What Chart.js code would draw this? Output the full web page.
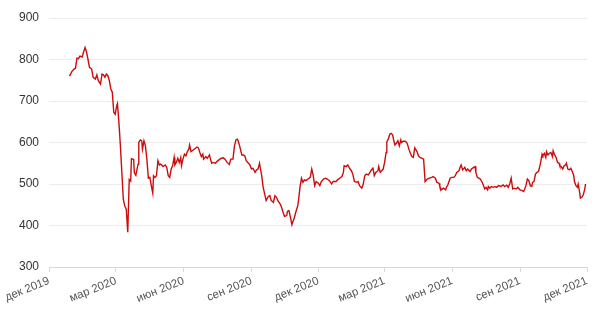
<!DOCTYPE html>
<html>
<head>
<meta charset="utf-8">
<script src="https://cdn.jsdelivr.net/npm/chart.js@4"></script>
<style>
  html, body { margin: 0; padding: 0; background: #fff; }
  #wrap { width: 600px; height: 314px; }
</style>
</head>
<body>
<div id="wrap"><canvas id="priceChart" width="600" height="314"></canvas></div>
<script>
// даты и цены
var dates = [
  '2019-12-29','2020-01-01','2020-01-04','2020-01-06','2020-01-08','2020-01-10','2020-01-12','2020-01-15','2020-01-17','2020-01-19',
  '2020-01-21','2020-01-23','2020-01-25','2020-01-28','2020-01-30','2020-02-02','2020-02-04','2020-02-06','2020-02-09','2020-02-11',
  '2020-02-13','2020-02-15','2020-02-17','2020-02-19','2020-02-21','2020-02-23','2020-02-25','2020-02-27','2020-02-29','2020-03-02',
  '2020-03-03','2020-03-05','2020-03-07','2020-03-09','2020-03-11','2020-03-13','2020-03-15','2020-03-17','2020-03-19','2020-03-21',
  '2020-03-22','2020-03-25','2020-03-26','2020-03-28','2020-03-31','2020-04-01','2020-04-03','2020-04-05','2020-04-06','2020-04-08',
  '2020-04-10','2020-04-12','2020-04-14','2020-04-16','2020-04-18','2020-04-20','2020-04-21','2020-04-23','2020-04-25','2020-04-27',
  '2020-04-29','2020-05-01','2020-05-04','2020-05-07','2020-05-09','2020-05-11','2020-05-13','2020-05-15','2020-05-17','2020-05-19',
  '2020-05-20','2020-05-22','2020-05-24','2020-05-26','2020-05-28','2020-05-29','2020-05-31','2020-06-02','2020-06-04','2020-06-06',
  '2020-06-08','2020-06-09','2020-06-11','2020-06-14','2020-06-17','2020-06-19','2020-06-21','2020-06-23','2020-06-25','2020-06-27',
  '2020-06-28','2020-07-01','2020-07-03','2020-07-06','2020-07-07','2020-07-09','2020-07-11','2020-07-14','2020-07-16','2020-07-19',
  '2020-07-22','2020-07-25','2020-07-27','2020-07-30','2020-08-02','2020-08-04','2020-08-07','2020-08-09','2020-08-11','2020-08-13',
  '2020-08-14','2020-08-16','2020-08-19','2020-08-21','2020-08-23','2020-08-25','2020-08-28','2020-08-30','2020-09-01','2020-09-03',
  '2020-09-06','2020-09-08','2020-09-10','2020-09-12','2020-09-15','2020-09-17','2020-09-19','2020-09-21','2020-09-24','2020-09-26',
  '2020-09-28','2020-10-01','2020-10-03','2020-10-05','2020-10-07','2020-10-10','2020-10-12','2020-10-14','2020-10-16','2020-10-19',
  '2020-10-20','2020-10-22','2020-10-24','2020-10-26','2020-10-27','2020-10-29','2020-10-31','2020-11-03','2020-11-04','2020-11-06',
  '2020-11-08','2020-11-10','2020-11-12','2020-11-14','2020-11-17','2020-11-20','2020-11-22','2020-11-24','2020-11-26','2020-11-28',
  '2020-12-01','2020-12-03','2020-12-05','2020-12-08','2020-12-11','2020-12-13','2020-12-16','2020-12-19','2020-12-21','2020-12-25',
  '2020-12-27','2020-12-30','2021-01-02','2021-01-04','2021-01-05','2021-01-08','2021-01-10','2021-01-13','2021-01-15','2021-01-17',
  '2021-01-19','2021-01-22','2021-01-24','2021-01-26','2021-01-29','2021-01-31','2021-02-02','2021-02-04','2021-02-07','2021-02-09',
  '2021-02-12','2021-02-13','2021-02-15','2021-02-17','2021-02-20','2021-02-21','2021-02-23','2021-02-25','2021-02-27','2021-03-01',
  '2021-03-03','2021-03-04','2021-03-06','2021-03-08','2021-03-10','2021-03-12','2021-03-13','2021-03-15','2021-03-17','2021-03-19',
  '2021-03-21','2021-03-23','2021-03-24','2021-03-26','2021-03-29','2021-03-31','2021-04-01','2021-04-03','2021-04-05','2021-04-07',
  '2021-04-09','2021-04-11','2021-04-12','2021-04-14','2021-04-16','2021-04-18','2021-04-21','2021-04-23','2021-04-25','2021-04-28',
  '2021-05-01','2021-05-04','2021-05-06','2021-05-09','2021-05-11','2021-05-14','2021-05-15','2021-05-17','2021-05-20','2021-05-23',
  '2021-05-24','2021-05-26','2021-05-29','2021-05-31','2021-06-03','2021-06-05','2021-06-07','2021-06-10','2021-06-12','2021-06-13',
  '2021-06-15','2021-06-18','2021-06-20','2021-06-22','2021-06-25','2021-06-27','2021-06-30','2021-07-02','2021-07-03','2021-07-05',
  '2021-07-07','2021-07-09','2021-07-11','2021-07-13','2021-07-15','2021-07-17','2021-07-19','2021-07-20','2021-07-22','2021-07-24',
  '2021-07-27','2021-07-29','2021-07-31','2021-08-03','2021-08-06','2021-08-09','2021-08-11','2021-08-14','2021-08-16','2021-08-18',
  '2021-08-20','2021-08-22','2021-08-24','2021-08-27','2021-08-29','2021-09-01','2021-09-04','2021-09-06','2021-09-07','2021-09-09',
  '2021-09-11','2021-09-13','2021-09-15','2021-09-17','2021-09-18','2021-09-20','2021-09-22','2021-09-24','2021-09-26','2021-09-27',
  '2021-09-29','2021-10-01','2021-10-02','2021-10-04','2021-10-06','2021-10-07','2021-10-09','2021-10-11','2021-10-13','2021-10-15',
  '2021-10-16','2021-10-18','2021-10-20','2021-10-22','2021-10-24','2021-10-25','2021-10-27','2021-10-29','2021-10-31','2021-11-02',
  '2021-11-03','2021-11-05','2021-11-07','2021-11-09','2021-11-11','2021-11-13','2021-11-14','2021-11-16','2021-11-18','2021-11-19',
  '2021-11-21','2021-11-22','2021-11-24','2021-11-26','2021-11-28','2021-11-29'
];
var prices = [
  760,771,777,779,803,802,808,806,818,829,
  818,800,781,777,757,753,763,749,741,765,
  763,757,765,761,749,729,721,673,668,689,
  694,648,592,527,463,447,439,384,511,507,
  561,559,527,521,548,600,606,604,584,604,
  592,560,514,516,496,478,520,516,520,556,
  546,548,542,546,540,520,516,536,544,564,
  546,552,562,552,564,544,560,572,568,578,
  584,594,578,582,586,589,587,576,566,572,
  560,566,562,570,563,550,552,550,554,558,
  562,563,560,552,547,560,560,592,606,608,
  604,592,570,570,568,556,550,546,536,538,
  528,534,536,550,520,492,476,460,470,472,
  460,456,472,468,460,452,444,432,422,424,
  434,436,420,402,408,416,430,448,460,492,
  514,504,510,508,512,516,536,520,496,506,
  502,496,506,512,514,512,508,500,506,506,
  510,514,518,528,544,542,546,536,532,522,
  506,504,506,496,490,500,520,524,522,528,
  536,540,520,528,532,542,528,532,536,552,
  576,602,608,620,622,618,608,594,598,604,
  592,606,600,603,603,600,596,584,574,566,
  564,587,584,578,568,564,562,560,506,512,
  514,516,518,514,504,502,494,486,490,486,
  492,498,514,516,516,520,528,532,542,546,
  534,540,532,536,530,536,540,542,528,516,
  514,512,506,498,488,492,486,494,490,494,
  492,494,492,496,494,498,494,497,492,500,
  514,488,490,488,492,486,484,482,486,496,
  512,508,496,494,504,506,524,528,530,536,
  552,572,568,574,564,578,570,574,576,566,
  580,570,564,552,550,544,542,536,544,546,
  550,536,534,538,530,520,506,496,492,500,
  480,466,468,474,488,500
];

var tickDates = ['2019-12-01','2020-03-01','2020-06-01','2020-09-01','2020-12-01','2021-03-01','2021-06-01','2021-09-01','2021-12-01'];
var tickLabels = ['дек 2019','мар 2020','июн 2020','сен 2020','дек 2020','мар 2021','июн 2021','сен 2021','дек 2021'];
var yTicks = [300, 400, 500, 600, 700, 800, 900];

// дни от начала оси
var start = Date.parse(tickDates[0]);
function dayNum(d) {
    return (Date.parse(d) - start) / 86400000;
}

var points = dates.map(function(d, i) {
    return { x: dayNum(d), y: prices[i] };
});
var tickDays = tickDates.map(dayNum);

var ctx = document.getElementById('priceChart').getContext('2d');
var priceChart = new Chart(ctx, {
    type: 'line',
    data: {
        datasets: [{
            data: points,
            borderColor: '#cc0c0c',
            borderWidth: 1.4,
            pointRadius: 0,
            tension: 0,
            fill: false
        }]
    },
    options: {
        responsive: false,
        animation: false,
        layout: { padding: { top: 18, right: 13, left: 0, bottom: 0 } },
        plugins: {
            legend: { display: false },
            tooltip: { enabled: false }
        },
        scales: {
            x: {
                type: 'linear',
                min: tickDays[0],
                max: tickDays[tickDays.length - 1],
                afterBuildTicks: function(scale) {
                    scale.ticks = tickDays.map(function(v) { return { value: v }; });
                },
                afterFit: function(scale) {
                    scale.height = 47;
                },
                ticks: {
                    autoSkip: false,
                    minRotation: 22,
                    maxRotation: 22,
                    padding: 2,
                    color: '#555',
                    font: { family: 'Liberation Sans, Arial, sans-serif', size: 11.5 },
                    callback: function(value) {
                        var i = tickDays.indexOf(value);
                        return i >= 0 ? tickLabels[i] : '';
                    }
                },
                grid: {
                    drawOnChartArea: false,
                    drawTicks: true,
                    tickLength: 5,
                    color: '#d9d9d9'
                },
                border: { display: true, color: '#d9d9d9' }
            },
            y: {
                min: yTicks[0],
                max: yTicks[yTicks.length - 1],
                afterBuildTicks: function(scale) {
                    scale.ticks = yTicks.map(function(v) { return { value: v }; });
                },
                afterFit: function(scale) {
                    scale.width = 49;
                },
                ticks: {
                    padding: 10,
                    color: '#333',
                    font: { family: 'Liberation Sans, Arial, sans-serif', size: 12 }
                },
                grid: {
                    color: '#ececec',
                    drawTicks: false
                },
                border: { display: false }
            }
        }
    }
});
</script>
</body>
</html>
